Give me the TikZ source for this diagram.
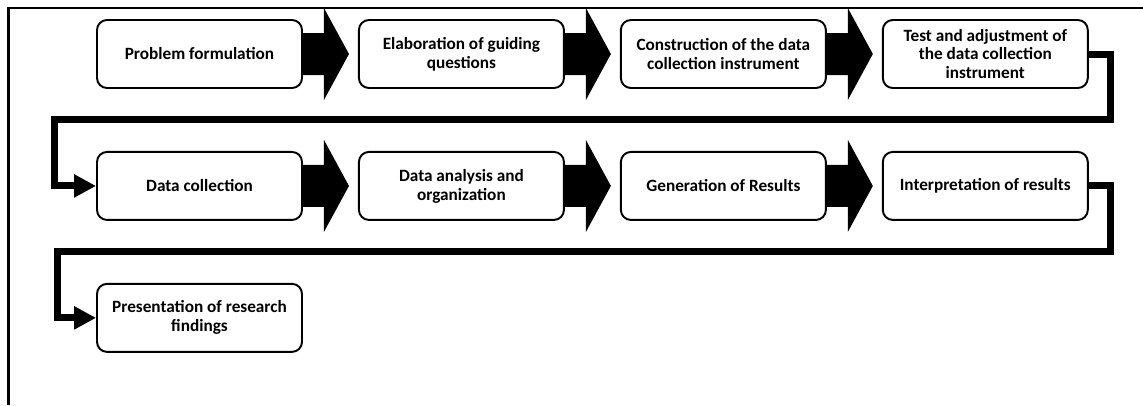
\documentclass[tikz,border=0pt]{standalone}
\usepackage{fontspec}
\setmainfont{Carlito}
\usetikzlibrary{positioning,calc,arrows.meta}

\begin{document}
\begin{tikzpicture}[
  box/.style={draw,line width=1.1pt,rounded corners=0.2cm,minimum width=4.1cm,minimum height=1.36cm,
    align=center,inner sep=2pt,font=\fontsize{9.8}{10.8}\selectfont\bfseries},
  flow/.style={line width=0.14cm,-{Triangle[length=0.44cm,width=0.44cm]}},
  node distance=1.24cm and 1.1cm]
\useasboundingbox (0,0) rectangle (22.86,-8.1);
\draw[line width=1.2pt] (22.86,-0.16) -- (0.17,-0.16) -- (0.17,-8.1);

% first row
\node[box] (b1) at (3.99,-1.08) {Problem formulation};
\node[box,right=of b1] (b2) {Elaboration of guiding\\questions};
\node[box,right=of b2] (b3) {Construction of the data\\collection instrument};
\node[box,right=of b3] (b4) {Test and adjustment of\\the data collection\\instrument};
% second row
\node[box,below=of b1] (b5) {Data collection};
\node[box,right=of b5] (b6) {Data analysis and\\organization};
\node[box,right=of b6] (b7) {Generation of Results};
\node[box,right=of b7] (b8) {Interpretation of results};
% third row
\node[box,below=of b5] (b9) {Presentation of research\\findings};

\foreach \a in {b1,b2,b3,b5,b6,b7}
  \fill ($(\a.east)+(0,0.42)$) -- ++(0.42,0) -- ++(0,0.5) -- ++(0.5,-0.92)
    -- ++(-0.5,-0.92) -- ++(0,0.5) -- ++(-0.42,0) -- cycle;

\draw[flow] (b4.east) -- ++(0.44,0) |- ($(b4.south)!0.5!(b8.north)$)
  -| ($(b5.west)+(-0.84,0)$) -- (b5.west);
\draw[flow] (b8.east) -- ++(0.44,0) |- ($(b8.south)!0.5!(b9.north)$)
  -| ($(b9.west)+(-0.78,0)$) -- (b9.west);
\end{tikzpicture}
\end{document}
